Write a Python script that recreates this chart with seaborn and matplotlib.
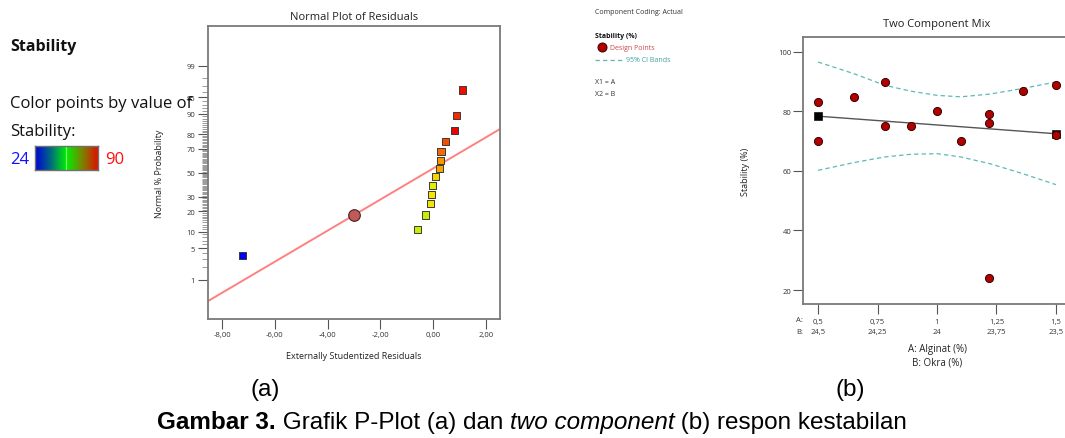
import numpy as np
import matplotlib
matplotlib.use("Agg")
import matplotlib.pyplot as plt
from matplotlib import font_manager
from matplotlib.colors import LinearSegmentedColormap
from matplotlib.ticker import FixedLocator, NullFormatter
from statistics import NormalDist
import seaborn as sns

# ---- (a) normal probability plot of externally studentized residuals ----
stab_value = [24, 70, 70, 75, 75, 72, 76, 79, 80, 83, 85, 90, 87, 89]
resid = [-7.24, -0.58, -0.30, -0.11, -0.07, -0.03, 0.10, 0.25, 0.28, 0.30, 0.46, 0.81, 0.88, 1.13]
norm_prob = [3.6, 10.7, 17.9, 25.0, 32.1, 39.3, 46.4, 53.6, 60.7, 67.9, 75.0, 82.1, 89.3, 96.4]
ref_line_x = [-8.55, 2.54]
ref_line_p = [0.26, 82.9]
marked_x = [-3.01]
marked_p = [17.7]
prob_ticks = [1, 5, 10, 20, 30, 50, 70, 80, 90, 95, 99]
resid_ticks = [-8, -6, -4, -2, 0, 2]
resid_labels = ["-8,00", "-6,00", "-4,00", "-2,00", "0,00", "2,00"]
value_range = [24, 90]

# ---- (b) two component mix: Alginat vs Okra ----
alginat = [0.5, 0.5, 0.65, 0.78, 0.78, 0.89, 1.0, 1.1, 1.22, 1.22, 1.22, 1.36, 1.5, 1.5]
stability = [83, 70, 85, 90, 75, 75, 80, 70, 79, 76, 24, 87, 89, 72]
fit_x = [0.5, 1.5]
fit_y = [78.4, 72.5]
band_x = [0.5, 0.65, 0.78, 0.89, 1.0, 1.1, 1.22, 1.36, 1.5]
band_upper = [96.6, 92.7, 88.8, 86.8, 85.4, 84.9, 85.8, 87.7, 89.9]
band_lower = [60.2, 62.8, 64.7, 65.6, 65.8, 64.7, 62.5, 59.1, 55.4]
mix_ticks = [0.5, 0.75, 1.0, 1.25, 1.5]
mix_labels_a = ["0,5", "0,75", "1", "1,25", "1,5"]
mix_labels_b = ["24,5", "24,25", "24", "23,75", "23,5"]
stab_ticks = [20, 40, 60, 80, 100]

# ---- figure caption ----
caption_parts = [("Gambar 3.", "bold", "normal"),
                 (" Grafik P-Plot (a) dan ", "normal", "normal"),
                 ("two component", "normal", "italic"),
                 (" (b) respon kestabilan", "normal", "normal")]

sns.set_style("white")
plt.rcParams["font.family"] = ["Open Sans", "Noto Sans", "DejaVu Sans"]

W, H = 1065, 439
fig = plt.figure(figsize=(W / 100, H / 100), dpi=100)


def px(x, y):
    return x / W, 1 - y / H


def axes_rect(left, top, right, bottom):
    return [left / W, 1 - bottom / H, (right - left) / W, (bottom - top) / H]


spine_col = "#7a7a7a"
tick_col = "#555555"
lab_col = "#333333"

# value colour scale used for the residual squares
point_cmap = LinearSegmentedColormap.from_list(
    "stab_pts",
    [(0.0, "#0000ff"), (0.5, "#00e000"), (0.69, "#c0f000"), (0.76, "#f8f000"),
     (0.84, "#f8a000"), (0.92, "#f85000"), (1.0, "#f00000")])

# ---------- panel (a) ----------
ax1 = fig.add_axes(axes_rect(207.7, 27, 500, 320))
nd = NormalDist()


def prob_fwd(p):
    p = np.clip(np.asarray(p, float) / 100.0, 1e-9, 1 - 1e-9)
    return np.vectorize(nd.inv_cdf, otypes=[float])(p)


def prob_inv(z):
    return np.vectorize(nd.cdf, otypes=[float])(np.asarray(z, float)) * 100.0


ax1.set_yscale("function", functions=(prob_fwd, prob_inv))

sns.lineplot(x=ref_line_x, y=ref_line_p, ax=ax1, color="#ff8080", lw=1.4)
sns.scatterplot(x=resid, y=norm_prob, hue=stab_value, palette=point_cmap,
                hue_norm=tuple(value_range), marker="s", s=26, edgecolor="#3a3a3a",
                linewidth=0.7, legend=False, ax=ax1, zorder=3)
sns.scatterplot(x=marked_x, y=marked_p, color="#c05a5a", edgecolor="#4a2020",
                s=70, linewidth=0.8, ax=ax1, zorder=4)

ax1.set_xlim(-8.55, 2.54)
ax1.set_ylim(0.0736, 99.929)
ax1.yaxis.set_major_locator(FixedLocator(prob_ticks))
ax1.set_yticklabels([str(t) for t in prob_ticks])
ax1.yaxis.set_minor_locator(FixedLocator([v for v in range(1, 100) if v not in prob_ticks]))
ax1.yaxis.set_minor_formatter(NullFormatter())
ax1.set_xticks(resid_ticks)
ax1.set_xticklabels(resid_labels)
ax1.tick_params(axis="both", which="major", direction="out", length=7, width=0.8,
                color=tick_col, labelsize=5.5, labelcolor=lab_col, pad=2,
                left=True, bottom=True)
ax1.tick_params(axis="y", which="minor", direction="out", length=4, width=0.6,
                color="#8a8a8a", left=True)
for sp in ax1.spines.values():
    sp.set_color(spine_col)
    sp.set_linewidth(1.3)
ax1.set_xlabel("")
ax1.set_ylabel("")
fig.text(*px(353.9, 18), "Normal Plot of Residuals", ha="center", va="center",
         fontsize=8, color="#222222")
fig.text(*px(353.9, 357), "Externally Studentized Residuals", ha="center", va="center",
         fontsize=6.5, color="#222222")
fig.text(*px(160, 173.5), "Normal % Probability", ha="center", va="center",
         rotation=90, fontsize=6.5, color="#222222")

# colour key for panel (a)
fig.text(*px(10, 47), "Stability", ha="left", va="center", fontsize=11.5,
         fontweight="bold", color="#111111")
fig.text(*px(10, 104), "Color points by value of", ha="left", va="center",
         fontsize=12, color="#111111")
fig.text(*px(10, 132), "Stability:", ha="left", va="center", fontsize=12,
         color="#111111")
fig.text(*px(10, 160), str(value_range[0]), ha="left", va="center", fontsize=12,
         color="#1010ff")
fig.text(*px(105, 160), str(value_range[1]), ha="left", va="center", fontsize=12,
         color="#ff1010")
key_cmap = LinearSegmentedColormap.from_list(
    "stab_key", [(0.0, "#0000d8"), (0.25, "#006a80"), (0.5, "#00f000"),
                 (0.75, "#7a8400"), (1.0, "#e01000")])
kax = fig.add_axes(axes_rect(35, 147, 97.5, 171))
kax.imshow(np.linspace(0, 1, 256)[None, :], aspect="auto", cmap=key_cmap,
           extent=(0, 1, 0, 1))
kax.axvline(0.5, color="#80ff80", lw=0.8)
kax.set_xticks([])
kax.set_yticks([])
for sp in kax.spines.values():
    sp.set_color("#707070")
    sp.set_linewidth(1.0)

# ---------- panel (b) ----------
ax2 = fig.add_axes(axes_rect(803.3, 38.3, 1070.7, 305))
sns.lineplot(x=band_x, y=band_upper, ax=ax2, color="#5fb8b8", lw=0.9,
             linestyle=(0, (3.5, 2.5)))
sns.lineplot(x=band_x, y=band_lower, ax=ax2, color="#5fb8b8", lw=0.9,
             linestyle=(0, (3.5, 2.5)))
sns.lineplot(x=fit_x, y=fit_y, ax=ax2, color="#555555", lw=1.0)
sns.scatterplot(x=fit_x, y=fit_y, marker="s", color="#000000", s=30,
                edgecolor="#000000", ax=ax2, zorder=3)
sns.scatterplot(x=alginat, y=stability, color="#b00000", edgecolor="#3a0000",
                s=34, linewidth=0.7, ax=ax2, zorder=4)
ax2.set_xlim(0.438, 1.562)
ax2.set_ylim(15.3, 104.9)
ax2.set_xticks(mix_ticks)
ax2.set_xticklabels(mix_labels_a)
ax2.set_yticks(stab_ticks)
ax2.tick_params(axis="both", which="major", direction="out", length=7, width=0.8,
                color=tick_col, labelsize=5.5, labelcolor=lab_col, pad=3,
                left=True, bottom=True)
ax2.tick_params(axis="y", pad=1.5)
for x_val, lab in zip(mix_ticks, mix_labels_b):
    ax2.text(x_val, -0.103, lab, transform=ax2.get_xaxis_transform(), ha="center",
             va="center", fontsize=5.5, color=lab_col)
for sp in ax2.spines.values():
    sp.set_color(spine_col)
    sp.set_linewidth(1.3)
ax2.set_xlabel("")
ax2.set_ylabel("")
fig.text(*px(796, 320), "A:", ha="left", va="center", fontsize=5.5, color=lab_col)
fig.text(*px(796, 332.5), "B:", ha="left", va="center", fontsize=5.5, color=lab_col)
fig.text(*px(937, 25), "Two Component Mix", ha="center", va="center", fontsize=8,
         color="#222222")
fig.text(*px(937, 350), "A: Alginat (%)", ha="center", va="center", fontsize=7,
         color="#222222")
fig.text(*px(937, 363), "B: Okra (%)", ha="center", va="center", fontsize=7,
         color="#222222")
fig.text(*px(745, 172), "Stability (%)", ha="center", va="center", rotation=90,
         fontsize=6.5, color="#222222")

# legend block for panel (b)
fig.text(*px(595, 12.5), "Component Coding: Actual", ha="left", va="center",
         fontsize=5, color="#333333")
fig.text(*px(595, 36), "Stability (%)", ha="left", va="center", fontsize=5,
         fontweight="bold", color="#111111")
fig.add_artist(plt.Line2D([601.7 / W], [1 - 48 / H], marker="o", markersize=6.5,
                          markerfacecolor="#b00000", markeredgecolor="#3a0000",
                          markeredgewidth=0.7, transform=fig.transFigure))
fig.text(*px(610.5, 48), "Design Points", ha="left", va="center", fontsize=5,
         color="#d04848")
fig.add_artist(plt.Line2D([595 / W, 625 / W], [1 - 60.5 / H] * 2, color="#5fb8b8",
                          lw=0.9, linestyle=(0, (3.5, 2.5)),
                          transform=fig.transFigure))
fig.text(*px(625.5, 60.5), "95% CI Bands", ha="left", va="center", fontsize=5,
         color="#40a0a0")
fig.text(*px(595, 83), "X1 = A", ha="left", va="center", fontsize=5, color="#333333")
fig.text(*px(595, 95), "X2 = B", ha="left", va="center", fontsize=5, color="#333333")

# panel letters and caption (narrow sans if present)
installed = {f.name for f in font_manager.fontManager.ttflist}
if "Liberation Sans Narrow" in installed:
    cap_font, cap_size = ["Liberation Sans Narrow", "DejaVu Sans"], 19
else:
    cap_font, cap_size = ["Liberation Sans", "DejaVu Sans"], 17.5
fig.text(*px(265, 390), "(a)", ha="center", va="center", fontsize=cap_size,
         family=cap_font, color="#000000")
fig.text(*px(850, 390), "(b)", ha="center", va="center", fontsize=cap_size,
         family=cap_font, color="#000000")

renderer = fig.canvas.get_renderer()
pieces = []
for txt, weight, style in caption_parts:
    t = fig.text(0, 1 - 423 / H, txt, ha="left", va="center", fontsize=cap_size,
                 family=cap_font, fontweight=weight, fontstyle=style, color="#000000")
    pieces.append(t)
widths = [t.get_window_extent(renderer).width for t in pieces]
x0 = 532 - sum(widths) / 2
for t, w in zip(pieces, widths):
    t.set_x(x0 / W)
    x0 += w

fig.savefig("out.png", dpi=100)
